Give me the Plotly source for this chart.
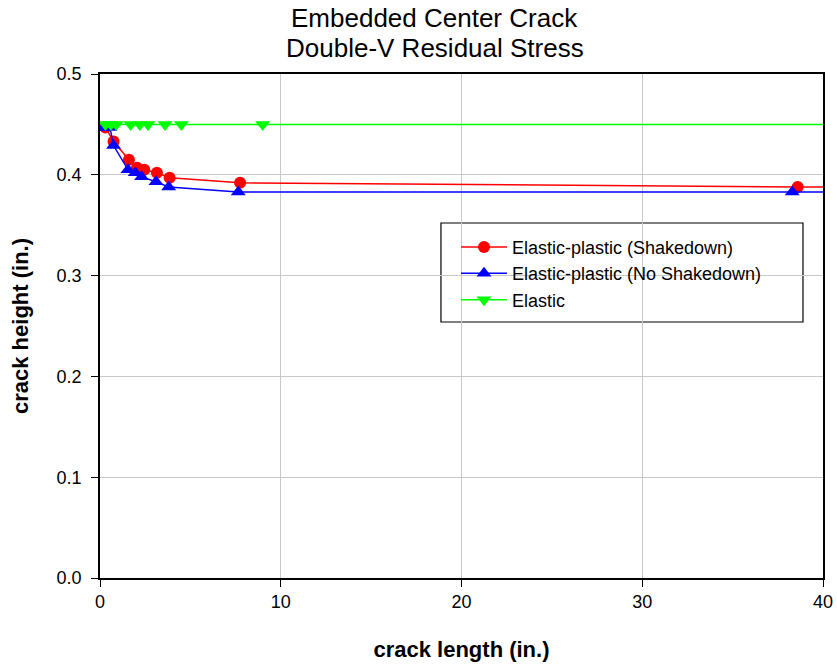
import plotly.graph_objects as go

# Data
shake_x = [0.3, 0.75, 1.6, 2.05, 2.45, 3.15, 3.85, 7.75, 38.6, 60.0]
shake_y = [0.447, 0.433, 0.415, 0.407, 0.405, 0.402, 0.397, 0.392, 0.388, 0.385]

noshake_x = [0.2, 0.55, 0.75, 1.55, 1.95, 2.3, 3.1, 3.8, 7.65, 38.3, 60.0]
noshake_y = [0.447, 0.447, 0.429, 0.405, 0.402, 0.398, 0.393, 0.388, 0.383, 0.383, 0.382]

elastic_x = [0.3, 0.6, 0.9, 1.7, 2.2, 2.65, 3.6, 4.5, 9.0, 60.0]
elastic_y = [0.45, 0.45, 0.45, 0.45, 0.45, 0.45, 0.45, 0.45, 0.45, 0.45]

x_ticks = [0, 10, 20, 30, 40]
y_ticks = [0.0, 0.1, 0.2, 0.3, 0.4, 0.5]

title_lines = ["Embedded Center Crack", "Double-V Residual Stress"]

FONT = "Liberation Sans, Arial, sans-serif"

fig = go.Figure()
fig.add_trace(go.Scatter(
    x=shake_x, y=shake_y, mode="lines+markers",
    name="Elastic-plastic (Shakedown)",
    line=dict(color="#ff0000", width=1.5),
    marker=dict(symbol="circle", size=12, color="#ff0000"),
))
fig.add_trace(go.Scatter(
    x=noshake_x, y=noshake_y, mode="lines+markers",
    name="Elastic-plastic (No Shakedown)",
    line=dict(color="#0000ff", width=1.5),
    marker=dict(symbol="triangle-up", size=13, color="#0000ff"),
))
fig.add_trace(go.Scatter(
    x=elastic_x, y=elastic_y, mode="lines+markers",
    name="Elastic",
    line=dict(color="#00ff00", width=1.5),
    marker=dict(symbol="triangle-down", size=13, color="#00ff00"),
))

# legend frame
fig.add_shape(type="rect", xref="paper", yref="paper",
              x0=0.4716, x1=0.9723, y0=0.5079, y1=0.7044,
              line=dict(color="black", width=1.2), fillcolor="white",
              layer="between")

# title lines
for txt, yy in zip(title_lines, [1.111, 1.0516]):
    fig.add_annotation(text=txt, xref="paper", yref="paper", x=0.463, y=yy,
                       xanchor="center", yanchor="middle", showarrow=False,
                       font=dict(size=26, family=FONT, color="black"))

fig.update_layout(
    width=837, height=667,
    margin=dict(l=100, r=14, t=74, b=89, autoexpand=False),
    paper_bgcolor="white", plot_bgcolor="white",
    font=dict(family=FONT, color="black"),
    showlegend=True,
    legend=dict(
        x=0.4924, y=0.693, xanchor="left", yanchor="top",
        bgcolor="rgba(0,0,0,0)", borderwidth=0,
        font=dict(size=18, family=FONT, color="black"),
        itemwidth=46,
        tracegroupgap=0,
    ),
    xaxis=dict(
        range=[0, 40], tickvals=x_ticks, ticktext=[str(v) for v in x_ticks],
        showline=True, linecolor="black", linewidth=1.5, mirror=True,
        ticks="outside", ticklen=7, tickwidth=1.2, tickcolor="black",
        showgrid=True, gridcolor="#c8c8c8", gridwidth=1, zeroline=False,
        automargin=False,
        tickfont=dict(size=18, family=FONT, color="black"),
        title=dict(text="<b>crack length (in.)</b>", standoff=30,
                   font=dict(size=22, family=FONT, color="black")),
    ),
    yaxis=dict(
        range=[0, 0.5], tickvals=y_ticks, ticktext=[f"{v:.1f}" for v in y_ticks],
        showline=True, linecolor="black", linewidth=1.5, mirror=True,
        ticks="outside", ticklen=7, tickwidth=1.2, tickcolor="black",
        ticklabelstandoff=6,
        showgrid=True, gridcolor="#c8c8c8", gridwidth=1, zeroline=False,
        automargin=False,
        tickfont=dict(size=18, family=FONT, color="black"),
        title=dict(text="<b>crack height (in.)</b>", standoff=22,
                   font=dict(size=22, family=FONT, color="black")),
    ),
)

fig.write_html("out.html")
